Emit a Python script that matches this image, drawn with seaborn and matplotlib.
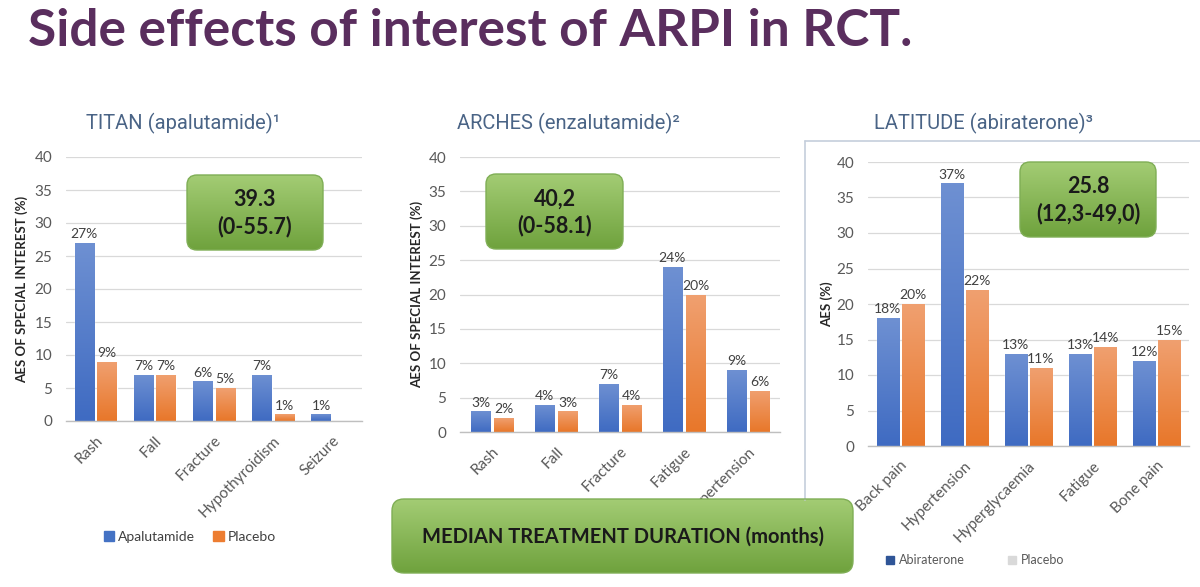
import matplotlib
matplotlib.use("Agg")
import matplotlib.pyplot as plt
import seaborn as sns
import pandas as pd
import numpy as np
from matplotlib.patches import FancyBboxPatch, Patch
from matplotlib.colors import to_rgb

# ---------------- data ----------------
titan_categories = ["Rash", "Fall", "Fracture", "Hypothyroidism", "Seizure"]
titan_apalutamide = [27, 7, 6, 7, 1]
titan_placebo = [9, 7, 5, 1, 0]

arches_categories = ["Rash", "Fall", "Fracture", "Fatigue", "Hypertension"]
arches_enzalutamide = [3, 4, 7, 24, 9]
arches_placebo = [2, 3, 4, 20, 6]

latitude_categories = ["Back pain", "Hypertension", "Hyperglycaemia", "Fatigue", "Bone pain"]
latitude_abiraterone = [18, 37, 13, 13, 12]
latitude_placebo = [20, 22, 11, 14, 15]

y_ticks = [0, 5, 10, 15, 20, 25, 30, 35, 40]

panel_titles = ["TITAN (apalutamide)¹", "ARCHES (enzalutamide)²", "LATITUDE (abiraterone)³"]
median_texts = ["39.3\n(0-55.7)", "40,2\n(0-58.1)", "25.8\n(12,3-49,0)"]
banner_text = "MEDIAN TREATMENT DURATION (months)"
main_title = "Side effects of interest of ARPI in RCT."

# ---------------- style ----------------
BLUE = "#4472C4"
ORANGE = "#ED7D31"
TICK_C = "#595959"
LBL_C = "#404040"
TITLE_C = "#4A6486"
PURPLE = "#5A2E5E"
FONT = "Lato"

sns.set_theme(style="white")
plt.rcParams["font.family"] = [FONT, "DejaVu Sans"]

W, H = 1200, 587
fig = plt.figure(figsize=(12, 5.87), dpi=100)
fig.patch.set_facecolor("white")


def px_axes(x0, x1, y_top, y_bot):
    return fig.add_axes([x0 / W, 1 - y_bot / H, (x1 - x0) / W, (y_bot - y_top) / H])


def vgrad(c_top, c_bot, n=64):
    t = np.linspace(0, 1, n)[:, None, None]
    img = np.array(to_rgb(c_top)) * (1 - t) + np.array(to_rgb(c_bot)) * t
    return np.repeat(img, 2, axis=1)


BLUE_GRAD = vgrad("#6E90D2", "#3F6BC2")
ORANGE_GRAD = vgrad("#F0A070", "#E8772A")


def shade_bars(ax):
    for cont, g in zip(ax.containers, [BLUE_GRAD, ORANGE_GRAD]):
        for bar in cont:
            h = bar.get_height()
            if h <= 0:
                continue
            x0 = bar.get_x()
            w = bar.get_width()
            im = ax.imshow(g, extent=(x0, x0 + w, 0, h), origin="upper",
                           aspect="auto", interpolation="bilinear", zorder=bar.get_zorder() + 0.1)
            im.set_clip_path(bar)


def panel(ax, cats, a, p, arm_a, ylabel, ylab_x, width, gap, ypad):
    df = pd.DataFrame({
        "category": cats * 2,
        "value": a + p,
        "arm": [arm_a] * len(cats) + ["Placebo"] * len(cats),
    })
    sns.barplot(data=df, x="category", y="value", hue="arm",
                palette=[BLUE, ORANGE], saturation=1, width=width, gap=gap,
                ax=ax, legend=False, errorbar=None)
    shade_bars(ax)
    for cont in ax.containers:
        labels = [f"{v:.0f}%" if v > 0 else "" for v in cont.datavalues]
        ax.bar_label(cont, labels=labels, padding=2, fontsize=10, color=LBL_C)
    ax.set_ylim(0, 40)
    ax.set_yticks(y_ticks)
    ax.set_xlim(-0.5, len(cats) - 0.5)
    ax.yaxis.grid(True, color="#D9D9D9", linewidth=0.9)
    ax.set_axisbelow(True)
    for s in ["top", "right", "left"]:
        ax.spines[s].set_visible(False)
    ax.spines["bottom"].set_color("#BFBFBF")
    ax.spines["bottom"].set_linewidth(1.0)
    ax.tick_params(axis="both", length=0, colors=TICK_C)
    ax.tick_params(axis="y", labelsize=11, pad=ypad)
    ax.tick_params(axis="x", labelsize=11, pad=9)
    for t in ax.get_xticklabels():
        t.set_rotation(45)
        t.set_ha("right")
        t.set_rotation_mode("anchor")
    ax.set_xlabel("")
    ax.set_ylabel(ylabel, fontsize=9.5, fontweight="bold", color="#262626")
    ax.yaxis.set_label_coords(ylab_x, 0.5)
    ax.patch.set_alpha(0)


ax1 = px_axes(66, 362, 157, 421)
panel(ax1, titan_categories, titan_apalutamide, titan_placebo, "Apalutamide",
      "AES OF SPECIAL INTEREST (%)", -0.128, 0.76, 0.14, 10)

ax2 = px_axes(460, 780, 157, 432)
panel(ax2, arches_categories, arches_enzalutamide, arches_placebo, "Enzalutamide",
      "AES OF SPECIAL INTEREST (%)", -0.116, 0.72, 0.14, 10)

ax3 = px_axes(868, 1189, 162, 446)
panel(ax3, latitude_categories, latitude_abiraterone, latitude_placebo, "Abiraterone",
      "AES (%)", -0.109, 0.78, 0.12, 10)

# legends
leg1 = ax1.legend(handles=[Patch(color=BLUE, label="Apalutamide"),
                           Patch(color=ORANGE, label="Placebo")],
                  loc="center", bbox_to_anchor=(190 / W, 1 - 537 / H),
                  bbox_transform=fig.transFigure, ncol=2, frameon=False,
                  fontsize=10, handlelength=0.75, handleheight=0.75,
                  handletextpad=0.3, columnspacing=1.3)
for t in leg1.get_texts():
    t.set_color(LBL_C)

leg3 = ax3.legend(handles=[Patch(color="#2F5597", label="Abiraterone"),
                           Patch(color="#D9D9D9", label="Placebo")],
                  loc="center", bbox_to_anchor=(975 / W, 1 - 560 / H),
                  bbox_transform=fig.transFigure, ncol=2, frameon=False,
                  fontsize=9, handlelength=0.6, handleheight=0.6,
                  handletextpad=0.4, columnspacing=3.5)
for t in leg3.get_texts():
    t.set_color(TICK_C)

# panel titles
for (txt, cx) in zip(panel_titles, [183, 568, 983]):
    fig.text(cx / W, 1 - 123 / H, txt, ha="center", va="center",
             fontsize=14.5, color=TITLE_C, family=["Roboto", "DejaVu Sans"])

# main title
fig.text(28 / W, 1 - 46 / H, main_title, ha="left", va="baseline",
         fontsize=37, fontweight="bold", color=PURPLE,
         family=["Lato", "DejaVu Sans"])

# overlay in pixel coordinates for boxes / frame
ov = fig.add_axes([0, 0, 1, 1], zorder=10)
ov.set_xlim(0, W)
ov.set_ylim(H, 0)
ov.axis("off")
ov.patch.set_alpha(0)

# LATITUDE frame
ov.plot([805, 1200], [141, 141], color="#C5CEDB", lw=1.2)
ov.plot([805, 805], [141, 500], color="#C5CEDB", lw=1.2)

GREEN_GRAD = vgrad("#A3CC74", "#6FA23D", 100)


def green_box(x0, x1, y0, y1, text, fs, r=10, ls=1.3):
    patch = FancyBboxPatch((x0, y0), x1 - x0, y1 - y0,
                           boxstyle=f"round,pad=0,rounding_size={r}",
                           facecolor="none", edgecolor="#7FAE55", lw=1.0)
    ov.add_patch(patch)
    im = ov.imshow(GREEN_GRAD, extent=(x0, x1, y1, y0), aspect="auto",
                   interpolation="bilinear", zorder=1)
    im.set_clip_path(patch)
    patch.set_zorder(2)
    ov.text((x0 + x1) / 2, (y0 + y1) / 2 + 1, text, ha="center", va="center",
            fontsize=fs, fontweight="bold", color="#1A1A1A", linespacing=ls,
            zorder=3)


green_box(187, 323, 175, 250, median_texts[0], 15.5)
green_box(486, 623, 174, 249, median_texts[1], 15.5)
green_box(1020, 1156, 162, 237, median_texts[2], 15.5)
green_box(392, 853, 499, 573, banner_text, 14.5, r=12)

ov.set_xlim(0, W)
ov.set_ylim(H, 0)

fig.savefig("out.png", dpi=100, facecolor="white")
